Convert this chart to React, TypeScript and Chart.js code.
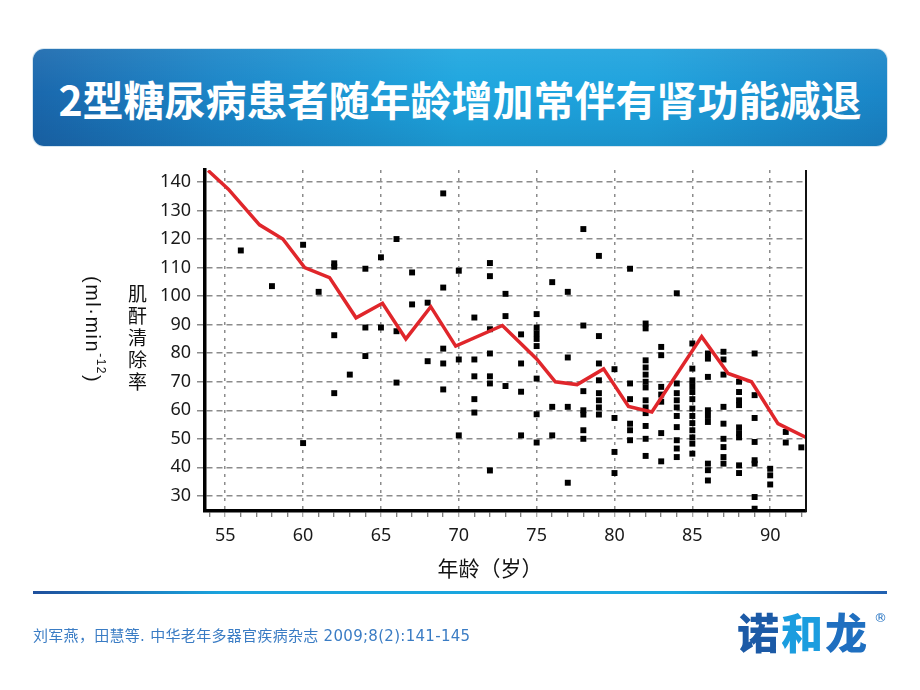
import React, { useEffect, useRef } from "react";
import { Chart, registerables } from "chart.js";

Chart.register(...registerables);

// ---------- data ----------
const xTickValues = [55, 60, 65, 70, 75, 80, 85, 90];
const xMinorTicks = [54, 55, 56, 57, 58, 59, 60, 61, 62, 63, 64, 65, 66, 67, 68, 69, 70, 71, 72, 73, 74, 75, 76, 77, 78, 79, 80, 81, 82, 83, 84, 85, 86, 87, 88, 89, 90, 91, 92];
const yTickValues = [30, 40, 50, 60, 70, 80, 90, 100, 110, 120, 130, 140];

// red trend line (age, clearance)
const trendAges = [53.9, 55.2, 57.2, 58.7, 60.1, 61.7, 63.4, 65.1, 66.6, 68.2, 69.8, 72.8, 75.0, 76.2, 77.6, 79.3, 80.9, 82.4, 85.6, 87.3, 88.8, 90.5, 92.3];
const trendValues = [144, 137.5, 125, 120, 110, 106.5, 92.4, 97.5, 85, 96.3, 82.5, 89.7, 78, 70, 69, 74.5, 61.3, 59.4, 85.8, 72.9, 70, 55.3, 50.5];

// individual patients, grouped by age
const scatterAgeGroups = [56, 58, 60, 61, 62, 63, 64, 65, 66, 67, 68, 69, 70, 71, 72, 73, 74, 75, 76, 77, 78, 79, 80, 81, 82, 83, 84, 85, 86, 87, 88, 89, 90, 91, 92];
const scatterValueGroups = [
  [116],
  [103.5],
  [118, 48.5],
  [101.5],
  [111.5, 110.3, 86.3, 66],
  [72.5],
  [109.6, 89, 79],
  [113.6, 89],
  [120, 87.7, 69.7],
  [108.3, 97.1],
  [97.7, 77.2],
  [136, 103, 81.6, 76.4, 67.3],
  [108.9, 77.8, 51.2],
  [92.5, 77.8, 71.9, 63.9, 59.2],
  [111.6, 107, 88.4, 79.9, 71.9, 69.4, 38.9],
  [100.8, 93, 68.5],
  [86.6, 76.4, 66.5, 51.2],
  [93.7, 89, 87, 85, 82.5, 71.1, 58.6, 48.7],
  [104.9, 61.2, 51.2],
  [101.5, 78.5, 61.2, 34.6],
  [123.5, 89.7, 66.7, 60, 58.5, 53, 50],
  [114.1, 86, 76.4, 70.5, 66, 63.5, 61, 58.5],
  [74.4, 57.3, 45.4, 38],
  [109.6, 69.4, 63.9, 55.3, 53, 49.5],
  [90.4, 88.7, 77.5, 75, 72.5, 70, 68, 63.5, 61, 59, 54.5, 50, 44],
  [82.2, 79.3, 68.2, 65.5, 63, 52, 42.1],
  [101, 69.4, 66, 63.5, 61, 58, 54.1, 49.5, 46.6, 43.6],
  [83.4, 74.6, 70.5, 68.5, 66.4, 63.9, 60.6, 58, 55.5, 53, 50.5, 48.3, 44.8],
  [79.9, 78.1, 71.7, 60, 58, 55.9, 41.3, 39, 35.4],
  [80.5, 77.8, 72.5, 61.2, 55.3, 50, 47.1, 43.6, 41.3],
  [70, 66.4, 63.5, 61.8, 54, 52, 50.5, 40.7, 38],
  [79.9, 65.3, 57.3, 48.9, 42.5, 41.3, 29.6, 25.5],
  [39.5, 37.2, 34],
  [52.4, 48.7],
  [47],
];

const titleText = "2型糖尿病患者随年龄增加常伴有肾功能减退";
const xTitle = "年龄（岁）";
const yTitleCn = "肌酐清除率";
const citation = "刘军燕，田慧等. 中华老年多器官疾病杂志 2009;8(2):141-145";

// ---------- component ----------
const CANVAS_W = 920;
const CANVAS_H = 690;

export default function App() {
  const canvasRef = useRef<HTMLCanvasElement | null>(null);

  useEffect(() => {
    if (!canvasRef.current) return;
    const trendData = trendAges.map((a, i) => ({ x: a, y: trendValues[i] }));
    const scatterData: { x: number; y: number }[] = [];
    scatterAgeGroups.forEach((a, i) => {
      scatterValueGroups[i].forEach((v) => scatterData.push({ x: a, y: v }));
    });

    const framePlugin = {
      id: "frameRight",
      afterDraw(chart: any) {
        const { ctx, chartArea } = chart;
        ctx.save();
        ctx.strokeStyle = "#111";
        ctx.lineWidth = 2;
        ctx.beginPath();
        ctx.moveTo(chartArea.right, chartArea.top);
        ctx.lineTo(chartArea.right, chartArea.bottom + 1);
        ctx.stroke();
        ctx.restore();
      },
    };

    const chart = new Chart(canvasRef.current, {
      type: "scatter",
      data: {
        datasets: [
          {
            type: "line",
            data: trendData,
            borderColor: "#e0262b",
            borderWidth: 3.5,
            pointRadius: 0,
            tension: 0,
            fill: false,
          } as any,
          {
            type: "scatter",
            data: scatterData,
            pointStyle: "rect",
            pointRadius: 4.2,
            backgroundColor: "#000",
            borderWidth: 0,
          } as any,
        ],
      },
      options: {
        responsive: false,
        animation: false,
        layout: { padding: { left: 145, top: 170, right: 114, bottom: 119 } },
        plugins: { legend: { display: false }, tooltip: { enabled: false } },
        scales: {
          x: {
            type: "linear",
            min: 53.7,
            max: 92.3,
            afterBuildTicks: (s: any) => {
              s.ticks = xMinorTicks.map((v) => ({ value: v }));
            },
            afterFit: (s: any) => {
              s.height = 60;
            },
            ticks: {
              autoSkip: false,
              maxRotation: 0,
              padding: 8,
              color: "#1a1a1a",
              font: { family: "'Noto Sans', sans-serif", size: 18 },
              callback: (v: any) => (xTickValues.includes(Number(v)) ? String(v) : ""),
            },
            grid: {
              color: (c: any) => (c.tick && xTickValues.includes(c.tick.value) ? "#8c8c8c" : "rgba(0,0,0,0)"),
              lineWidth: 1.5,
              drawTicks: true,
              tickLength: 6,
              tickColor: (c: any) => (c.tick && xTickValues.includes(c.tick.value) ? "#8c8c8c" : "#555"),
              tickWidth: 1,
            },
            border: { display: true, color: "#000", width: 3.5, dash: [3, 5] },
          },
          y: {
            type: "linear",
            min: 24.7,
            max: 144.2,
            afterBuildTicks: (s: any) => {
              s.ticks = yTickValues.map((v) => ({ value: v }));
            },
            afterFit: (s: any) => {
              s.width = 60;
            },
            ticks: {
              autoSkip: false,
              padding: 6,
              color: "#1a1a1a",
              font: { family: "'Noto Sans', sans-serif", size: 18 },
            },
            grid: {
              color: "#8c8c8c",
              lineWidth: 1.5,
              drawTicks: true,
              tickLength: 8,
              tickColor: "#8c8c8c",
            },
            border: { display: true, color: "#000", width: 3.5, dash: [6, 4] },
          },
        },
      },
      plugins: [framePlugin],
    } as any);

    return () => chart.destroy();
  }, []);

  const cjk = "'Noto Sans CJK SC', 'Noto Sans', sans-serif";

  return (
    <div
      style={{
        position: "absolute",
        left: 0,
        top: 0,
        width: CANVAS_W,
        height: CANVAS_H,
        background: "#fff",
        overflow: "hidden",
        fontFamily: cjk,
      }}
    >
      <div
        style={{
          position: "absolute",
          left: 33,
          top: 49,
          width: 854,
          height: 97,
          borderRadius: 11,
          background:
            "linear-gradient(to bottom, rgba(255,255,255,0.07) 0%, rgba(0,0,0,0) 45%, rgba(0,0,40,0.10) 100%), linear-gradient(to right, #1a68ad 0%, #1b86c8 22%, #1ea6df 50%, #1ea2dd 72%, #1a86c8 100%)",
          boxShadow: "0 0 0 1px #d6e6f0",
          display: "flex",
          alignItems: "center",
          justifyContent: "center",
          color: "#fff",
          fontWeight: 700,
          fontSize: 41,
          whiteSpace: "nowrap",
        }}
      >
        {titleText}
      </div>

      <canvas
        ref={canvasRef}
        width={CANVAS_W}
        height={CANVAS_H}
        style={{ position: "absolute", left: 0, top: 0, width: CANVAS_W, height: CANVAS_H }}
      />

      <div
        style={{
          position: "absolute",
          left: 125,
          top: 284,
          writingMode: "vertical-rl",
          fontSize: 19,
          lineHeight: "24px",
          letterSpacing: 3,
          color: "#111",
        }}
      >
        {yTitleCn}
      </div>
      <div
        style={{
          position: "absolute",
          left: 81,
          top: 276,
          writingMode: "vertical-rl",
          fontSize: 20,
          lineHeight: "24px",
          letterSpacing: 1.5,
          color: "#111",
          fontFamily: "'Liberation Sans', sans-serif",
          whiteSpace: "nowrap",
        }}
      >
        (ml·min<sup style={{ fontSize: 12 }}>-12</sup>)
      </div>

      <div
        style={{
          position: "absolute",
          left: 390,
          top: 554,
          width: 200,
          textAlign: "center",
          fontSize: 21,
          lineHeight: "26px",
          color: "#111",
        }}
      >
        {xTitle}
      </div>

      <div
        style={{
          position: "absolute",
          left: 33,
          top: 591,
          width: 854,
          height: 3,
          background: "linear-gradient(to right, #1f4f9c 0%, #1aa3dd 22%, #1aa8e0 75%, #2160b0 100%)",
        }}
      />

      <div
        style={{
          position: "absolute",
          left: 33,
          top: 626,
          fontSize: 15,
          lineHeight: "20px",
          letterSpacing: 0.3,
          color: "#3a7cc4",
          whiteSpace: "nowrap",
          fontFamily: "'DejaVu Sans', 'Noto Sans CJK SC', sans-serif",
        }}
      >
        {citation}
      </div>

      <div
        style={{
          position: "absolute",
          left: 737,
          top: 604,
          fontSize: 42,
          lineHeight: "54px",
          fontWeight: 900,
          letterSpacing: 2,
          whiteSpace: "nowrap",
        }}
      >
        <span style={{ color: "#1c5aa6" }}>诺</span>
        <span style={{ color: "#1b9ddf" }}>和</span>
        <span style={{ color: "#1f6fc0" }}>龙</span>
        <span
          style={{
            position: "absolute",
            left: 137,
            top: 7,
            fontSize: 13,
            lineHeight: "14px",
            fontWeight: 400,
            color: "#1f6fc0",
            fontFamily: "'DejaVu Sans', sans-serif",
          }}
        >
          ®
        </span>
      </div>
    </div>
  );
}
